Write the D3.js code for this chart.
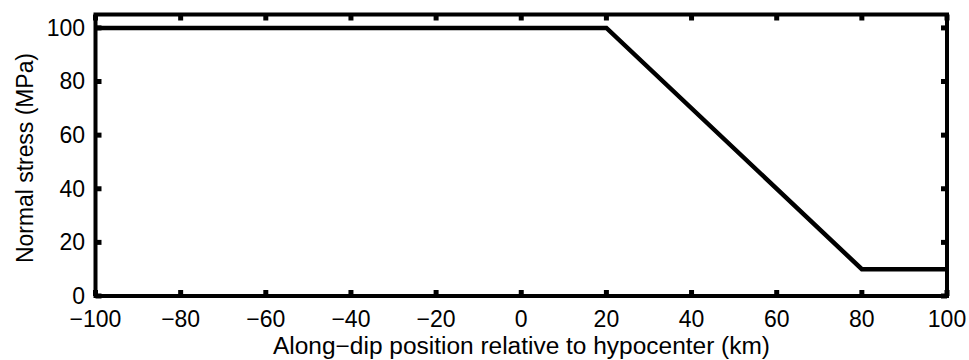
<!DOCTYPE html>
<html>
<head>
<meta charset="utf-8">
<script src="https://cdn.jsdelivr.net/npm/d3@7"></script>
<style>
  html, body { margin: 0; padding: 0; background: #fff; }
  text { font-family: "Liberation Sans", Arial, Helvetica, sans-serif; fill: #000; }
</style>
</head>
<body>
<svg id="chart" width="969" height="360"></svg>
<script>
const positionKm = [-100, 20, 80, 100];
const normalStressMPa = [100, 100, 10, 10];
const xTicks = [-100, -80, -60, -40, -20, 0, 20, 40, 60, 80, 100];
const yTicks = [0, 20, 40, 60, 80, 100];
const xLabel = "Along\u2212dip position relative to hypocenter (km)";
const yLabel = "Normal stress (MPa)";

(function () {
const svg = d3.select("#chart");
const pl = 95.5, pr = 947, pt = 14.5, pb = 296;

const x = d3.scaleLinear().domain([-100, 100]).range([pl, pr]);
const y = d3.scaleLinear().domain([0, 105]).range([pb, pt]);

const fmt = d => d < 0 ? "\u2212" + Math.abs(d) : String(d);

// data line
const line = d3.line().x((d, i) => x(positionKm[i])).y(d => y(d));
svg.append("path")
  .datum(normalStressMPa)
  .attr("d", line)
  .attr("fill", "none")
  .attr("stroke", "#000")
  .attr("stroke-width", 4.5)
  .attr("stroke-linejoin", "miter");

// frame
svg.append("rect")
  .attr("x", pl).attr("y", pt)
  .attr("width", pr - pl).attr("height", pb - pt)
  .attr("fill", "none").attr("stroke", "#000").attr("stroke-width", 4);

// ticks (inward, all four sides)
const tickLen = 6, tickW = 5;
xTicks.forEach(t => {
  svg.append("line").attr("x1", x(t)).attr("x2", x(t))
    .attr("y1", pb).attr("y2", pb - tickLen)
    .attr("stroke", "#000").attr("stroke-width", tickW);
  svg.append("line").attr("x1", x(t)).attr("x2", x(t))
    .attr("y1", pt).attr("y2", pt + tickLen)
    .attr("stroke", "#000").attr("stroke-width", tickW);
});
yTicks.forEach(t => {
  svg.append("line").attr("x1", pl).attr("x2", pl + tickLen)
    .attr("y1", y(t)).attr("y2", y(t))
    .attr("stroke", "#000").attr("stroke-width", tickW);
  svg.append("line").attr("x1", pr).attr("x2", pr - tickLen)
    .attr("y1", y(t)).attr("y2", y(t))
    .attr("stroke", "#000").attr("stroke-width", tickW);
});

// tick labels
svg.append("g").selectAll("text").data(xTicks).join("text")
  .attr("x", d => x(d)).attr("y", 327)
  .attr("text-anchor", "middle")
  .attr("font-size", 23)
  .text(fmt);

svg.append("g").selectAll("text").data(yTicks).join("text")
  .attr("x", 85).attr("y", d => y(d))
  .attr("dy", "0.34em")
  .attr("text-anchor", "end")
  .attr("font-size", 23)
  .text(fmt);

// axis labels
svg.append("text")
  .attr("x", 273).attr("y", 354)
  .attr("font-size", 23)
  .attr("textLength", 497)
  .attr("lengthAdjust", "spacingAndGlyphs")
  .text(xLabel);

svg.append("text")
  .attr("transform", `translate(33,263) rotate(-90)`)
  .attr("font-size", 23)
  .attr("textLength", 210)
  .attr("lengthAdjust", "spacingAndGlyphs")
  .text(yLabel);
})();
</script>
</body>
</html>
